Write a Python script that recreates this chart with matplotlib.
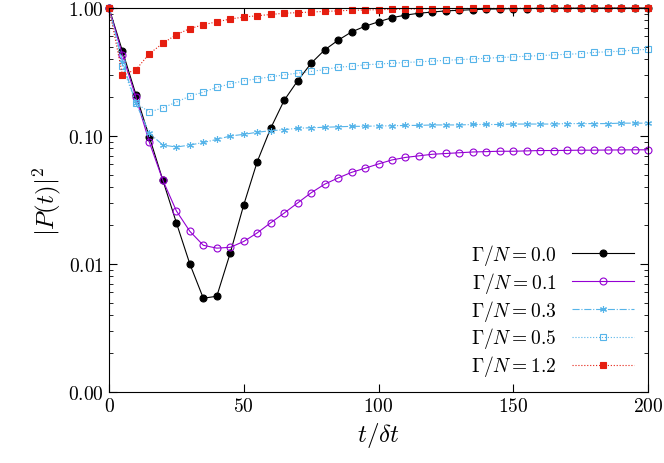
import numpy as np
import matplotlib.pyplot as plt
from matplotlib.ticker import FixedLocator, FixedFormatter, LogLocator, NullFormatter

plt.rcParams['mathtext.fontset'] = 'cm'
plt.rcParams['font.family'] = 'serif'

t = np.arange(0, 205, 5)

p00 = [1.0, 0.46, 0.21, 0.098, 0.045, 0.021, 0.010, 0.0054, 0.0056, 0.0122, 0.029,
       0.063, 0.115, 0.19, 0.27, 0.37, 0.47, 0.56, 0.65, 0.72, 0.78, 0.84, 0.88,
       0.91, 0.93, 0.95, 0.96, 0.97, 0.98, 0.985, 0.99, 0.99, 0.993, 0.995, 0.996,
       0.997, 0.998, 0.998, 0.999, 0.999, 0.999]
p01 = [1.0, 0.43, 0.20, 0.089, 0.045, 0.026, 0.018, 0.014, 0.0133, 0.0135, 0.015,
       0.0175, 0.021, 0.025, 0.030, 0.036, 0.042, 0.047, 0.052, 0.056, 0.0605,
       0.065, 0.068, 0.070, 0.072, 0.073, 0.074, 0.075, 0.0755, 0.076, 0.076,
       0.0765, 0.077, 0.077, 0.0772, 0.0775, 0.0775, 0.0777, 0.0778, 0.078, 0.078]
p03 = [1.0, 0.38, 0.18, 0.105, 0.085, 0.082, 0.085, 0.089, 0.094, 0.100, 0.103,
       0.107, 0.110, 0.112, 0.115, 0.116, 0.117, 0.118, 0.119, 0.119, 0.120,
       0.120, 0.121, 0.121, 0.122, 0.122, 0.122, 0.123, 0.123, 0.123, 0.124,
       0.124, 0.124, 0.124, 0.125, 0.125, 0.125, 0.125, 0.126, 0.126, 0.126]
p05 = [1.0, 0.35, 0.18, 0.154, 0.166, 0.184, 0.205, 0.22, 0.24, 0.255, 0.27,
       0.28, 0.29, 0.30, 0.31, 0.32, 0.33, 0.345, 0.35, 0.36, 0.365, 0.37,
       0.375, 0.38, 0.385, 0.39, 0.395, 0.40, 0.405, 0.41, 0.415, 0.42, 0.425,
       0.43, 0.435, 0.44, 0.45, 0.455, 0.46, 0.47, 0.475]
p12 = [1.0, 0.30, 0.33, 0.44, 0.53, 0.62, 0.69, 0.74, 0.78, 0.82, 0.85, 0.87,
       0.89, 0.91, 0.92, 0.93, 0.94, 0.95, 0.96, 0.965, 0.97, 0.975, 0.98,
       0.983, 0.986, 0.988, 0.99, 0.992, 0.993, 0.994, 0.995, 0.996, 0.997,
       0.997, 0.998, 0.998, 0.999, 0.999, 0.999, 1.0, 1.0]

series = [
    (p00, r'$\Gamma/N = 0.0$', 'black', '-', 'o', 'black'),
    (p01, r'$\Gamma/N = 0.1$', '#9400d3', '-', 'o', 'none'),
    (p03, r'$\Gamma/N = 0.3$', '#56b4e9', '-.', (6, 2, 0), None),
    (p05, r'$\Gamma/N = 0.5$', '#56b4e9', ':', 's', 'none'),
    (p12, r'$\Gamma/N = 1.2$', '#e51e10', ':', 's', '#e51e10'),
]

fig = plt.figure(figsize=(6.64, 4.64), dpi=100)
ax = fig.add_axes([109 / 664, 1 - 393 / 464, (648 - 109) / 664, (393 - 9) / 464])

for vals, lab, col, ls, mk, fc in series:
    kw = dict(color=col, linestyle=ls, linewidth=0.8, marker=mk, markersize=5,
              label=lab, markeredgewidth=0.8, clip_on=False)
    if fc is not None:
        kw['markerfacecolor'] = fc
    ax.plot(t, vals, **kw)

ax.set_yscale('log')
ax.set_xlim(0, 200)
ax.set_ylim(0.001, 1.0)
ax.yaxis.set_major_locator(FixedLocator([0.001, 0.01, 0.1, 1.0]))
ax.yaxis.set_major_formatter(FixedFormatter([r'$0.00$', r'$0.01$', r'$0.10$', r'$1.00$']))
ax.yaxis.set_minor_locator(LogLocator(base=10, subs=np.arange(2, 10)))
ax.yaxis.set_minor_formatter(NullFormatter())
ax.set_xticks([0, 50, 100, 150, 200])
ax.set_xticklabels([r'$0$', r'$50$', r'$100$', r'$150$', r'$200$'])
ax.tick_params(direction='in', which='both', top=True, right=True, labelsize=14)
ax.tick_params(which='major', length=6)
ax.tick_params(which='minor', length=3)
ax.set_xlabel(r'$t/\delta t$', fontsize=18)
ax.set_ylabel(r'$|P(t)|^2$', fontsize=18)

ax.legend(loc='lower right', frameon=False, markerfirst=False, fontsize=14,
          handlelength=3.2, labelspacing=0.15, borderaxespad=0.3)

fig.savefig('out.png', dpi=100)
